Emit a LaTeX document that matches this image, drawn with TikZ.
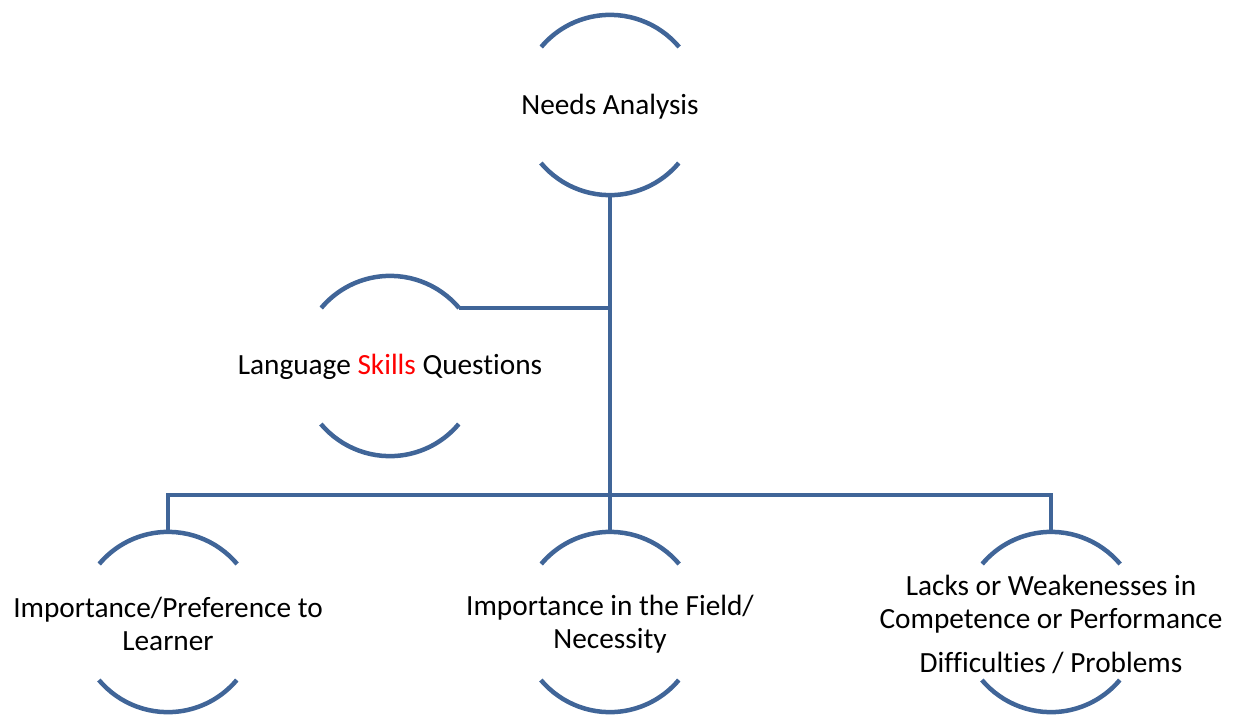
\documentclass[tikz,border=0pt]{standalone}
\usepackage{fontspec}
\setmainfont{Carlito}[Ligatures=NoCommon]
\usepackage{xcolor}
\usepackage{tikz}
\usetikzlibrary{positioning}
\definecolor{ringblue}{RGB}{64,101,152}
\tikzset{ring/.style={circle,minimum size=180pt,inner sep=0pt},
         label text/.style={align=center,font=\fontsize{29.3}{33}\selectfont},
         link/.style={draw=ringblue,line width=4.5pt},
            }

\begin{document}
\begin{tikzpicture}[x=1pt,y=-1pt]
    \useasboundingbox (0,0) rectangle (1237,718);

    \node[ring] (na)  at (610,105) {};
    \node[ring] (lsq) at (390,366) {};
    \node[ring] (ilp) at (168,622) {};
    \node[ring] (ifn) at (610,622) {};
    \node[ring] (lwc) at (1051,622) {};

    \node[label text] (na-t)  at (610,107)  {Needs Analysis};
    \node[label text] (lsq-t) at (390,367) {Language \textcolor{red}{Skills} Questions};
    \node[label text] (ilp-t) at (168,624) {Importance/Preference to\\Learner};
    \node[label text] (ifn-t) at (610,624) {Importance in the Field/\\Necessity};
    \node[label text] (lwc-t) at (1051,624) {Lacks or Weakenesses in\\Competence or Performance\\[11pt]Difficulties / Problems};

    \foreach \n in {na,lsq,ilp,ifn,lwc}{
        \draw[link] (\n.40) arc[start angle=-40,end angle=-140,radius=90];
        \draw[link] (\n.220) arc[start angle=140,end angle=40,radius=90];
    }

    \coordinate (bus) at (610,495);
    \draw[link] (na.south) -- (ifn.north);
    \draw[link] (lsq.40) -- (lsq.40 -| na.south);
    \draw[link] (ilp.north) |- (bus) -| (lwc.north);

\end{tikzpicture}
\end{document}
